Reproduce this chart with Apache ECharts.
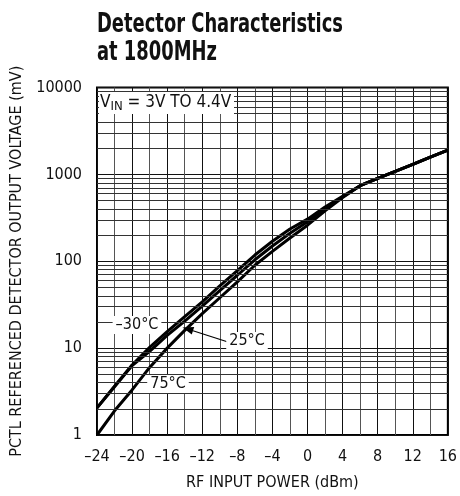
<!DOCTYPE html>
<html>
<head>
<meta charset="utf-8">
<script src="https://cdn.jsdelivr.net/npm/echarts@6/dist/echarts.min.js"></script>
<style>
html,body{margin:0;padding:0;background:#fff;}
#c{width:460px;height:496px;}
</style>
</head>
<body>
<div id="c"></div>
<script>
// RF input power (dBm)
const powers = [-24,-22,-20,-18,-16,-14,-12,-10,-8,-6,-4,-2,0,2,4,6,8,10,12,14,16];
// Output voltage (mV) per temperature
const tempM30 = [2.05,3.65,6.4,10.2,15.5,23,34,52,78,118,170,235,305,420,560,740,900,1080,1300,1580,1900];
const temp25  = [2.05,3.6,6.3,9.2,14,20.5,30.5,46,69,104,150,210,285,405,550,740,900,1080,1300,1580,1900];
const temp75  = [1.0,1.9,3.3,6.0,10,16,25,38,58,90,130,185,260,380,540,740,900,1080,1300,1580,1900];
const seriesNames = ['–30°C','25°C','75°C'];
const yTicks = [1,10,100,1000,10000];
const minorMultipliers = [2,3,4,5,6,7,8,9];
const titleLines = ['Detector Characteristics','at 1800MHz'];

const FONT = "'DejaVu Sans Condensed','Liberation Sans',sans-serif";

const minorY = [];
yTicks.slice(0,-1).forEach(d => minorMultipliers.forEach(m => minorY.push({yAxis: d*m})));

function pairs(vals){ return powers.map((p,i)=>[p, vals[i]]); }

const chart = echarts.init(document.getElementById('c'), null, {renderer:'canvas'});
const lineStyle = {color:'#000', width:3};
chart.setOption({
  animation:false,
  backgroundColor:'#fff',
  grid:{left:97, right:12, top:87.5, bottom:58.5, show:true, borderColor:'#000', borderWidth:2, backgroundColor:'transparent'},
  xAxis:{
    type:'value', min:-24, max:16, interval:4,
    name:'RF INPUT POWER (dBm)', nameLocation:'middle', nameGap:40,
    nameTextStyle:{fontFamily:FONT, fontSize:16, color:'#111'},
    axisLine:{show:false}, axisTick:{show:false},
    axisLabel:{fontFamily:FONT, fontSize:16, color:'#111', margin:14,
      formatter:v => (v<0 ? '–'+Math.abs(v) : String(v))},
    splitLine:{show:true, lineStyle:{color:'#111', width:1}},
    minorTick:{show:false, splitNumber:2},
    minorSplitLine:{show:true, lineStyle:{color:'#555', width:1}}
  },
  yAxis:{
    type:'log', logBase:10, min:1, max:10000,
    name:'PCTL REFERENCED DETECTOR OUTPUT VOLTAGE (mV)', nameLocation:'middle', nameGap:72,
    nameTextStyle:{fontFamily:FONT, fontSize:16, color:'#111'},
    axisLine:{show:false}, axisTick:{show:false},
    axisLabel:{fontFamily:FONT, fontSize:16, color:'#111', margin:15,
      formatter:v => String(Math.round(v))},
    splitLine:{show:true, lineStyle:{color:'#111', width:1}}
  },
  series:[
    {type:'line', data:[], z:1, silent:true,
     markLine:{silent:true, symbol:['none','none'], label:{show:false}, animation:false,
       lineStyle:{color:'#333', width:1, type:'solid'}, emphasis:{disabled:true}, data:minorY}},
    {name:seriesNames[0], type:'line', data:pairs(tempM30), showSymbol:false, lineStyle, z:3},
    {name:seriesNames[1], type:'line', data:pairs(temp25), showSymbol:false, lineStyle, z:3},
    {name:seriesNames[2], type:'line', data:pairs(temp75), showSymbol:false, lineStyle, z:3}
  ]
});

// condensed bold title (scaled horizontally to match the narrow original face)
const TFONT = "bold 26px 'DejaVu Sans Condensed','Liberation Sans',sans-serif";
const cv = document.createElement('canvas').getContext('2d');
cv.font = TFONT;
const sx = 246 / cv.measureText(titleLines[0]).width;

// annotations
const tip = chart.convertToPixel({gridIndex:0}, [-14.25, 17.3]);
const tail = [228, 342];
const ang = Math.atan2(tip[1]-tail[1], tip[0]-tail[0]);
const hl = 11, hw = 4;
const base = [tip[0]-hl*Math.cos(ang), tip[1]-hl*Math.sin(ang)];
const nx = -Math.sin(ang), ny = Math.cos(ang);
const lbl = (text, x, y) => ({type:'text', x, y, z:50,
  style:{text, fontFamily:FONT, fontSize:16, fill:'#111', align:'center', verticalAlign:'middle',
    backgroundColor:'#fff', padding:[1,3,1,3]}});
chart.setOption({graphic:[
  {type:'text', x:97, y:12, scaleX:sx, z:50, style:{text:titleLines[0], font:TFONT, fill:'#111', verticalAlign:'top'}},
  {type:'text', x:97, y:40, scaleX:sx, z:50, style:{text:titleLines[1], font:TFONT, fill:'#111', verticalAlign:'top'}},
  {type:'rect', shape:{x:99, y:92, width:135, height:22}, style:{fill:'#fff'}, z:40},
  {type:'text', x:100, y:103, z:50, style:{
    rich:{a:{fontFamily:FONT, fontSize:17, fill:'#111'}, b:{fontFamily:FONT, fontSize:13, fill:'#111', padding:[7,0,0,0]}},
    text:'{a|V}{b|IN}{a| = 3V TO 4.4V}', verticalAlign:'middle'}},
  lbl('–30°C', 137, 325),
  lbl('25°C', 247, 341),
  lbl('75°C', 168, 384),
  {type:'line', z:45, shape:{x1:tail[0], y1:tail[1], x2:base[0], y2:base[1]}, style:{stroke:'#000', lineWidth:1.2}},
  {type:'polygon', z:45, shape:{points:[tip, [base[0]+nx*hw, base[1]+ny*hw], [base[0]-nx*hw, base[1]-ny*hw]]}, style:{fill:'#000'}}
]});
</script>
</body>
</html>
